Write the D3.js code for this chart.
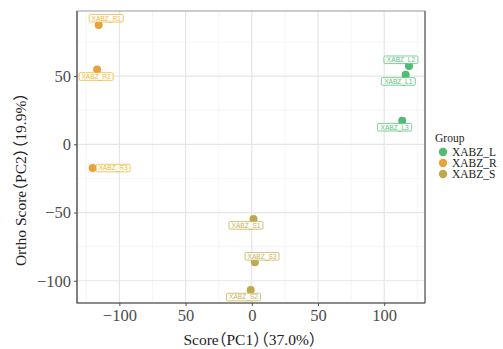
<!DOCTYPE html>
<html>
<head>
<meta charset="utf-8">
<script src="https://cdn.jsdelivr.net/npm/d3@7"></script>
<style>
  html, body { margin: 0; padding: 0; background: #fff; }
  svg { display: block; }
  .cjk { font-family: 'Noto Sans CJK SC', 'Noto Sans CJK JP', sans-serif; font-feature-settings: "halt" 1; }
</style>
</head>
<body>
<svg id="chart" width="503" height="349"></svg>
<script>
// OPLS-DA score plot: samples, their group, and scores
const samples = ["XABZ_L1", "XABZ_L2", "XABZ_L3", "XABZ_R1", "XABZ_R2", "XABZ_R3", "XABZ_S1", "XABZ_S2", "XABZ_S3"];
const sampleGroup = ["XABZ_L", "XABZ_L", "XABZ_L", "XABZ_R", "XABZ_R", "XABZ_R", "XABZ_S", "XABZ_S", "XABZ_S"];
const scorePC1 = [116.2, 118.7, 113.6, -115.6, -116.8, -120.2, 1.3, -0.8, 2.3];
const orthoPC2 = [51.0, 57.4, 17.3, 87.5, 54.8, -17.4, -54.8, -106.8, -86.5];

const groups = ["XABZ_L", "XABZ_R", "XABZ_S"];
const xTicks = [-100, -50, 0, 50, 100];
const xTickLabels = ["\u2212100", "50", "0", "50", "100"];
const yTicks = [-100, -50, 0, 50];
const yTickLabels = ["\u2212100", "\u221250", "0", "50"];
const xTitle = "Score\uFF08PC1\uFF09\uFF0837.0%\uFF09";
const yTitle = "Ortho Score\uFF08PC2\uFF09\uFF0819.9%\uFF09";

// Repelled label placement (pixel nudge from each point)
const labelNudge = {
  XABZ_L1: [-7.4, 6.7], XABZ_L2: [-8, -6.2], XABZ_L3: [-7.6, 6.5],
  XABZ_R1: [7.5, -6.7], XABZ_R2: [-1, 7], XABZ_R3: [20.5, 0],
  XABZ_S1: [-7.5, 6.3], XABZ_S2: [-7.2, 7], XABZ_S3: [7.2, -6]
};

const pointColor = d3.scaleOrdinal().domain(groups).range(["#4fbb73", "#e9a23b", "#bfa94e"]);
const labelColor = d3.scaleOrdinal().domain(groups).range(["#5cc47e", "#efb737", "#c8b25a"]);

const svg = d3.select("#chart");
const panel = { left: 77, top: 11, right: 425, bottom: 303 };

const x = d3.scaleLinear().domain([-132, 130.8]).range([panel.left, panel.right]);
const y = d3.scaleLinear().domain([-116.3, 97.7]).range([panel.bottom, panel.top]);

const serif = "'Liberation Serif', 'DejaVu Serif', serif";

// panel background and grid
const g = svg.append("g");
g.append("rect").attr("x", panel.left).attr("y", panel.top)
  .attr("width", panel.right - panel.left).attr("height", panel.bottom - panel.top)
  .attr("fill", "#fff");

const xMinor = [-125, -75, -25, 25, 75, 125];
const yMinor = [-75, -25, 25, 75];
g.selectAll(".xminor").data(xMinor).join("line")
  .attr("x1", d => x(d)).attr("x2", d => x(d))
  .attr("y1", panel.top).attr("y2", panel.bottom)
  .attr("stroke", "#f2f2f2").attr("stroke-width", 0.8);
g.selectAll(".yminor").data(yMinor).join("line")
  .attr("y1", d => y(d)).attr("y2", d => y(d))
  .attr("x1", panel.left).attr("x2", panel.right)
  .attr("stroke", "#f2f2f2").attr("stroke-width", 0.8);
g.selectAll(".xmajor").data(xTicks).join("line")
  .attr("x1", d => x(d)).attr("x2", d => x(d))
  .attr("y1", panel.top).attr("y2", panel.bottom)
  .attr("stroke", "#e6e6e6").attr("stroke-width", 1.2);
g.selectAll(".ymajor").data(yTicks).join("line")
  .attr("y1", d => y(d)).attr("y2", d => y(d))
  .attr("x1", panel.left).attr("x2", panel.right)
  .attr("stroke", "#e6e6e6").attr("stroke-width", 1.2);

// panel border
g.append("rect").attr("x", panel.left).attr("y", panel.top)
  .attr("width", panel.right - panel.left).attr("height", panel.bottom - panel.top)
  .attr("fill", "none").attr("stroke", "#9a9a9a").attr("stroke-width", 1);
g.append("line").attr("x1", panel.right).attr("x2", panel.right)
  .attr("y1", panel.top).attr("y2", panel.bottom).attr("stroke", "#555").attr("stroke-width", 1);
g.append("path").attr("d", `M${panel.left},${panel.top}V${panel.bottom}H${panel.right}`)
  .attr("fill", "none").attr("stroke", "#4d4d4d").attr("stroke-width", 1.2);

// axes
const xAxis = d3.axisBottom(x).tickValues(xTicks).tickSize(3).tickPadding(3)
  .tickFormat((d, i) => xTickLabels[i]);
const yAxis = d3.axisLeft(y).tickValues(yTicks).tickSize(3).tickPadding(3)
  .tickFormat((d, i) => yTickLabels[i]);

const gx = svg.append("g").attr("transform", `translate(0,${panel.bottom})`).call(xAxis);
const gy = svg.append("g").attr("transform", `translate(${panel.left},0)`).call(yAxis);
[gx, gy].forEach(ax => {
  ax.select(".domain").remove();
  ax.selectAll(".tick line").attr("stroke", "#4d4d4d");
  ax.selectAll(".tick text").attr("fill", "#4d4d4d")
    .style("font-family", serif).style("font-size", "16.5px");
});

// axis titles: full-width brackets set in a CJK face with half-width alternates
function writeTitle(sel, str) {
  const parts = str.split(/([\uFF08\uFF09])/).filter(s => s.length);
  parts.forEach(p => {
    const t = sel.append("tspan").text(p);
    if (p === "\uFF08" || p === "\uFF09") t.attr("class", "cjk");
  });
}
const xt = svg.append("text").attr("x", (panel.left + panel.right) / 2 - 1).attr("y", 345)
  .attr("text-anchor", "middle").attr("fill", "#222")
  .style("font-family", serif).style("font-size", "15.5px");
writeTitle(xt, xTitle);
const yt = svg.append("text")
  .attr("transform", "translate(26,179.5) rotate(-90)")
  .attr("text-anchor", "middle").attr("fill", "#222")
  .style("font-family", serif).style("font-size", "15.5px");
writeTitle(yt, yTitle);

// points
const rows = samples.map((s, i) => ({ name: s, group: sampleGroup[i], px: scorePC1[i], py: orthoPC2[i] }));
svg.append("g").selectAll("circle").data(rows).join("circle")
  .attr("cx", d => x(d.px)).attr("cy", d => y(d.py)).attr("r", 4)
  .attr("fill", d => pointColor(d.group));

// sample labels in boxes
const lab = svg.append("g").selectAll("g").data(rows).join("g")
  .attr("transform", d => `translate(${x(d.px) + labelNudge[d.name][0]},${y(d.py) + labelNudge[d.name][1]})`);
lab.append("rect").attr("x", -17).attr("y", -3.8).attr("width", 34).attr("height", 7.6)
  .attr("rx", 1.2).attr("fill", "rgba(255,255,255,0.85)")
  .attr("stroke", d => labelColor(d.group)).attr("stroke-width", 0.8);
lab.append("text").attr("text-anchor", "middle").attr("dy", "0.36em")
  .attr("fill", d => labelColor(d.group))
  .style("font-family", "'Liberation Sans', Arial, sans-serif").style("font-size", "6.6px")
  .text(d => d.name);

// legend
const leg = svg.append("g").attr("transform", "translate(435,0)");
leg.append("text").attr("x", 0).attr("y", 142).attr("fill", "#222")
  .style("font-family", serif).style("font-size", "11.5px").text("Group");
const items = leg.selectAll(".item").data(groups).join("g")
  .attr("transform", (d, i) => `translate(0,${152 + i * 11})`);
items.append("circle").attr("cx", 8).attr("cy", 0).attr("r", 4.2).attr("fill", d => pointColor(d));
items.append("text").attr("x", 17).attr("dy", "0.35em").attr("fill", "#222")
  .style("font-family", serif).style("font-size", "11.5px").text(d => d);
</script>
</body>
</html>
